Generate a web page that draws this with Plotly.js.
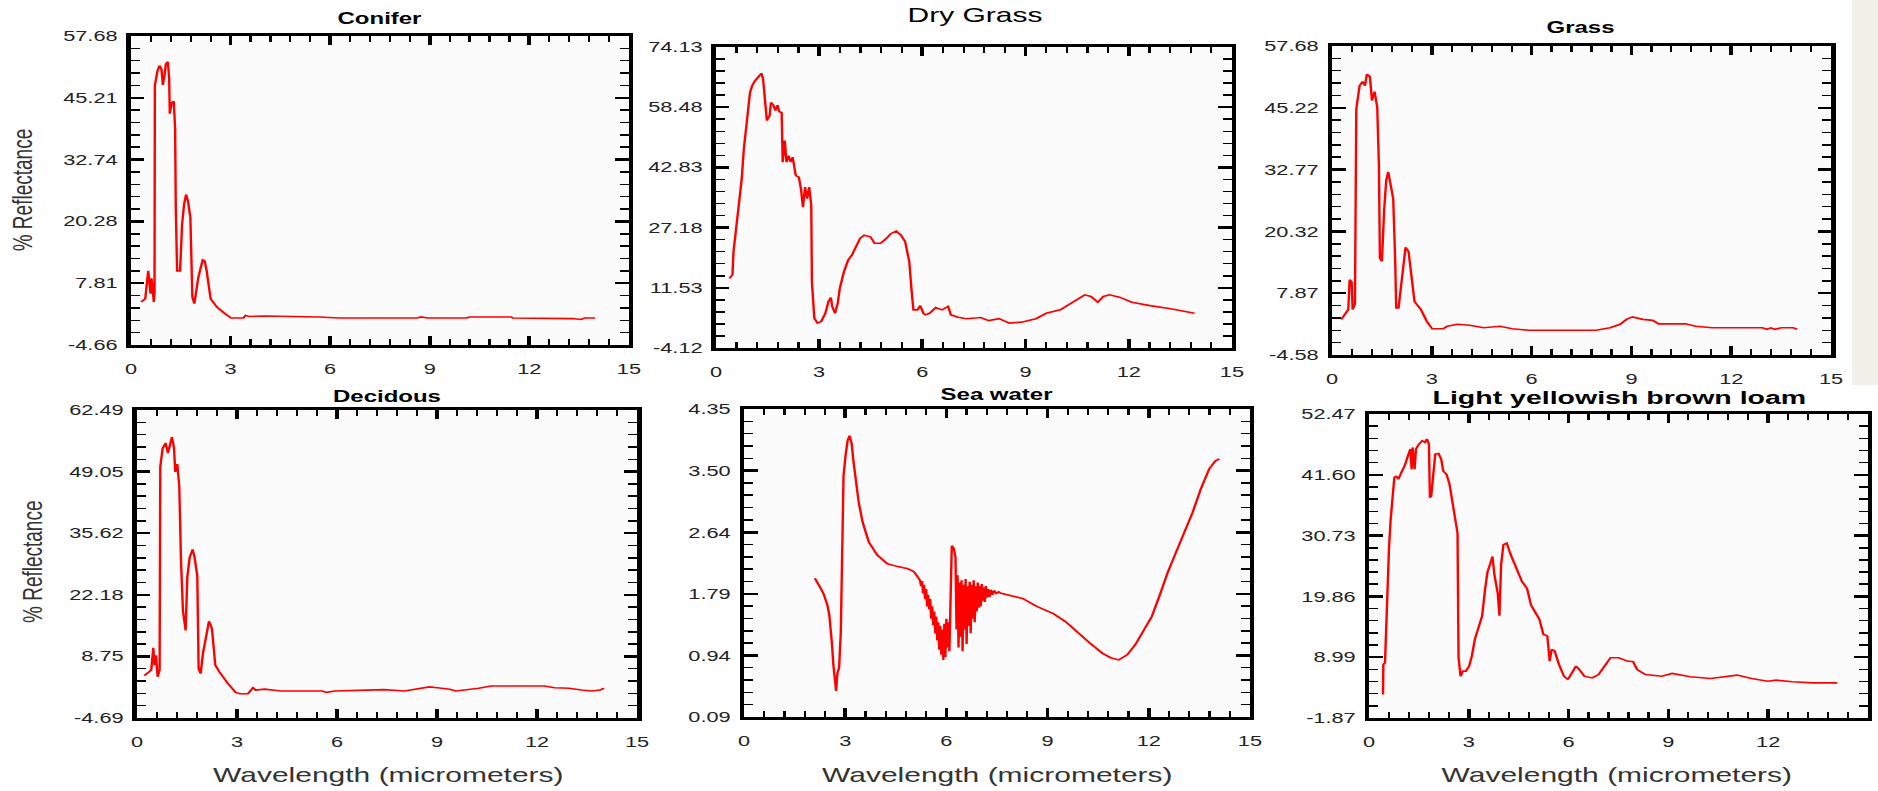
<!DOCTYPE html>
<html><head><meta charset="utf-8">
<script src="https://cdn.plot.ly/plotly-3.0.1.min.js"></script>
<style>
html,body{margin:0;padding:0;background:#ffffff;overflow:hidden;width:1878px;height:791px}
#wrap{width:1252px;height:791px;transform:scaleX(1.5);transform-origin:0 0}
</style></head><body><div id="wrap"></div>
<script>
// ---- data ----
const coniferX=[0.31,0.43,0.52,0.59,0.62,0.69,0.71,0.72,0.80,0.86,0.92,0.96,1.01,1.05,1.11,1.15,1.17,1.23,1.29,1.33,1.35,1.39,1.48,1.54,1.60,1.66,1.72,1.79,1.85,1.91,2.03,2.16,2.22,2.28,2.40,2.59,2.83,3.02,3.39,3.45,3.57,4.06,5.67,6.28,8.62,8.74,8.93,10.1,10.2,11.45,11.5,13.3,13.55,13.67,13.98];
const coniferY=[4.0,4.67,10.3,5.67,8.8,4.0,5.8,47.7,50.7,51.7,51.0,47.8,49.7,52.0,52.5,49.3,42.0,44.3,44.5,39.0,23.3,10.3,10.3,19.7,23.7,25.7,24.3,21.0,5.0,3.7,9.0,12.5,12.3,10.3,4.67,3.0,1.67,0.8,0.8,1.3,1.1,1.2,1.0,0.8,0.8,1.0,0.8,0.8,1.0,1.0,0.8,0.67,0.5,0.8,0.8];

const dryGrassX=[0.39,0.48,0.51,0.59,0.69,0.75,0.81,0.87,0.93,0.99,1.05,1.13,1.22,1.32,1.37,1.44,1.48,1.56,1.60,1.67,1.73,1.79,1.84,1.91,1.94,2.00,2.05,2.11,2.17,2.23,2.32,2.41,2.47,2.53,2.59,2.65,2.71,2.77,2.79,2.86,2.95,3.06,3.18,3.27,3.34,3.38,3.46,3.54,3.60,3.72,3.84,3.95,4.07,4.19,4.31,4.49,4.61,4.79,4.96,5.08,5.24,5.38,5.50,5.62,5.69,5.74,5.86,5.94,6.03,6.09,6.21,6.39,6.57,6.75,6.83,7.04,7.28,7.70,7.93,8.23,8.53,8.88,9.30,9.60,10.01,10.37,10.72,10.90,11.10,11.26,11.44,11.73,12.09,12.62,13.22,13.91];
const dryGrassY=[14.0,14.9,20.9,27.0,33.8,39.9,47.6,52.8,58.9,62.3,64.0,65.3,66.2,67.3,65.8,58.4,55.0,56.3,59.7,59.0,57.6,59.0,57.3,57.1,44.2,49.8,44.2,45.9,44.2,45.5,40.7,40.3,37.3,32.5,37.7,34.7,37.7,33.0,13.1,3.6,2.35,2.8,4.9,8.0,9.0,6.7,4.9,7.5,11.4,15.7,18.7,20.0,22.2,24.4,25.2,24.8,23.1,23.1,24.4,25.6,26.3,25.2,23.5,18.3,10.5,5.8,5.8,6.9,4.9,4.5,4.9,6.4,5.8,6.7,4.5,3.9,3.5,3.8,3.0,3.5,2.35,2.6,3.5,4.9,5.8,7.8,9.7,9.3,7.8,9.3,9.7,9.1,7.8,6.9,6.1,4.9];

const grassX=[0.28,0.49,0.53,0.59,0.62,0.69,0.73,0.83,0.92,0.99,1.05,1.14,1.20,1.28,1.36,1.41,1.44,1.50,1.57,1.63,1.69,1.77,1.84,1.90,1.93,2.00,2.08,2.15,2.21,2.30,2.40,2.48,2.67,2.85,3.01,3.34,3.46,3.77,4.14,4.56,5.05,5.42,5.91,6.34,7.07,7.93,8.36,8.66,8.85,9.03,9.34,9.64,9.82,10.62,10.93,11.42,12.58,12.94,13.07,13.19,13.31,13.50,13.86,13.98];
const grassY=[2.57,4.6,10.6,10.2,4.6,5.7,45.0,49.7,50.5,49.7,52.0,51.5,46.7,48.5,45.3,33.6,14.9,14.3,24.9,30.6,32.3,28.9,26.9,14.3,4.9,4.9,9.6,14.9,17.1,16.3,10.3,6.2,4.6,2.2,0.7,0.7,1.2,1.6,1.4,0.9,1.2,0.7,0.4,0.4,0.4,0.4,0.9,1.6,2.6,3.1,2.6,2.4,1.7,1.7,1.2,0.9,0.9,0.9,0.6,0.9,0.6,0.9,0.9,0.6];

const decidousX=[0.22,0.43,0.49,0.53,0.57,0.62,0.68,0.70,0.77,0.86,0.93,0.99,1.05,1.11,1.15,1.21,1.27,1.32,1.38,1.46,1.51,1.58,1.67,1.73,1.81,1.85,1.91,1.98,2.07,2.16,2.25,2.35,2.47,2.72,2.96,3.09,3.33,3.40,3.48,3.56,3.83,4.32,5.56,5.68,5.93,6.91,7.41,8.02,8.52,8.77,9.01,9.38,9.57,9.88,10.25,10.62,11.23,12.22,12.53,12.96,13.33,13.64,13.89,14.01];
const decidousY=[4.54,5.8,10.6,6.85,9.0,4.3,5.8,50.1,54.1,55.3,53.1,54.8,56.6,54.3,49.0,50.7,45.8,29.9,18.7,14.4,26.0,30.3,32.1,30.3,26.3,6.1,5.0,9.4,13.7,16.4,14.8,6.85,5.4,2.9,0.9,0.6,0.6,1.4,1.9,1.4,1.6,1.2,1.2,0.9,1.2,1.4,1.5,1.2,1.8,2.1,1.9,1.6,1.2,1.4,1.8,2.3,2.3,2.3,1.9,1.8,1.4,1.2,1.4,1.8];

const seaX=[2.10,2.15,2.25,2.37,2.47,2.53,2.57,2.61,2.65,2.70,2.73,2.77,2.82,2.87,2.90,2.95,3.01,3.07,3.13,3.19,3.24,3.32,3.40,3.52,3.70,3.95,4.25,4.56,4.86,5.04,5.16,5.22,5.25,5.28,5.31,5.34,5.37,5.40,5.43,5.46,5.49,5.52,5.55,5.58,5.61,5.64,5.67,5.70,5.73,5.76,5.79,5.82,5.85,5.88,5.91,5.94,5.97,6.00,6.03,6.06,6.09,6.12,6.16,6.22,6.27,6.30,6.33,6.36,6.39,6.42,6.45,6.48,6.51,6.54,6.57,6.60,6.63,6.66,6.69,6.72,6.75,6.78,6.81,6.84,6.87,6.90,6.93,6.96,6.99,7.02,7.05,7.08,7.11,7.14,7.17,7.20,7.24,7.28,7.32,7.36,7.42,7.48,7.55,7.62,7.83,8.26,8.68,9.17,9.53,9.90,10.26,10.63,10.87,11.11,11.36,11.60,11.84,12.09,12.33,12.57,12.81,13.06,13.30,13.54,13.79,13.97,14.09];
const seaY=[2.01,1.96,1.89,1.78,1.64,1.50,1.18,1.09,0.81,0.58,0.45,0.70,0.77,1.27,2.37,3.42,3.70,3.91,3.98,3.88,3.65,3.33,3.06,2.78,2.51,2.33,2.21,2.17,2.14,2.10,2.03,1.98,1.90,1.97,1.80,1.92,1.72,1.86,1.62,1.78,1.58,1.72,1.45,1.62,1.36,1.55,1.25,1.48,1.15,1.40,1.02,1.35,0.95,1.30,0.88,1.38,0.92,1.45,1.05,1.40,1.00,2.10,2.46,2.42,2.30,1.30,2.05,1.05,1.95,1.20,1.98,1.00,1.92,1.30,2.00,1.10,1.90,1.35,1.96,1.25,1.92,1.45,1.98,1.40,1.90,1.55,1.95,1.60,1.90,1.62,1.93,1.70,1.88,1.68,1.90,1.74,1.86,1.75,1.85,1.78,1.84,1.80,1.82,1.80,1.78,1.73,1.62,1.52,1.41,1.25,1.11,0.97,0.91,0.88,0.95,1.09,1.27,1.48,1.78,2.10,2.37,2.65,2.92,3.24,3.52,3.63,3.66];

const loamX=[0.42,0.43,0.48,0.52,0.55,0.60,0.65,0.70,0.76,0.82,0.88,0.97,1.07,1.17,1.24,1.28,1.31,1.37,1.41,1.50,1.60,1.68,1.74,1.80,1.83,1.87,1.93,1.99,2.09,2.17,2.23,2.33,2.42,2.52,2.60,2.66,2.69,2.75,2.82,2.91,3.01,3.09,3.18,3.28,3.40,3.49,3.56,3.65,3.71,3.77,3.87,3.92,3.97,4.04,4.14,4.26,4.38,4.50,4.60,4.75,4.87,4.99,5.12,5.24,5.36,5.43,5.49,5.58,5.71,5.86,5.98,6.10,6.22,6.32,6.47,6.71,6.90,7.08,7.26,7.51,7.76,7.94,8.06,8.31,8.80,9.11,9.66,10.27,10.70,11.07,11.50,11.99,12.24,12.73,13.34,13.96,14.08];
const loamY=[2.33,7.7,8.0,15.5,22.5,28.5,33.6,38.1,41.1,41.4,40.8,42.0,43.2,45.0,46.2,42.6,46.5,42.6,46.2,47.1,47.7,47.4,48.0,47.1,37.5,37.8,41.7,45.3,45.4,44.4,42.3,41.7,39.9,35.7,33.3,31.2,9.0,5.6,6.5,6.5,7.4,9.2,12.2,14.0,16.4,21.2,24.2,25.8,27.0,23.7,20.4,16.4,25.5,29.1,29.4,27.3,25.5,24.2,22.5,21.3,18.3,17.1,15.8,13.1,12.8,8.3,10.4,10.1,7.7,5.6,5.0,6.2,7.4,6.8,5.6,5.3,5.9,7.4,8.9,8.9,8.3,8.2,6.8,5.9,5.6,6.1,5.5,5.2,5.5,5.8,5.2,4.7,4.9,4.6,4.4,4.3,4.4];

// ---- tick labels ----
const xTicks=[0,3,6,9,12,15];
const coniferTicks=['-4.66','7.81','20.28','32.74','45.21','57.68'];
const dryGrassTicks=['-4.12','11.53','27.18','42.83','58.48','74.13'];
const grassTicks=['-4.58','7.87','20.32','32.77','45.22','57.68'];
const decidousTicks=['-4.69','8.75','22.18','35.62','49.05','62.49'];
const seaTicks=['0.09','0.94','1.79','2.64','3.50','4.35'];
const loamTicks=['-1.87','8.99','19.86','30.73','41.60','52.47'];
const panelTitles=['Conifer','Dry Grass','Grass','Decidous','Sea water','Light yellowish brown loam'];
const yTitle='% Reflectance';
const xTitle='Wavelength (micrometers)';

// ---- layout ----
const W=1252,H=791;
const FONT='Liberation Sans, Arial, sans-serif';
const frames=[ // [left,right,top,bottom] in unscaled px
  [87.3,419.3,36,345],[477.3,821.3,47,348],[888,1220.7,46,355],
  [91.3,424.7,410,718],[496,833.3,409,717],[912.7,1245.3,414,718]];
const series=[[coniferX,coniferY,coniferTicks],[dryGrassX,dryGrassY,dryGrassTicks],[grassX,grassY,grassTicks],
  [decidousX,decidousY,decidousTicks],[seaX,seaY,seaTicks],[loamX,loamY,loamTicks]];

const data=[];const layout={width:W,height:H,margin:{l:0,r:0,t:0,b:0},
  paper_bgcolor:'#ffffff',plot_bgcolor:'#fbfbfb',showlegend:false,annotations:[],
  shapes:[{type:'rect',xref:'paper',yref:'paper',x0:1234.7/W,x1:1,y0:1-385/H,y1:1,
    fillcolor:'#f3f0ea',line:{width:0},layer:'below'}]};
series.forEach((s,i)=>{
  const n=i===0?'':String(i+1);
  data.push({x:s[0],y:s[1],xaxis:'x'+n,yaxis:'y'+n,type:'scatter',mode:'lines',
    line:{color:'#ff0000',width:1.6},hoverinfo:'skip'});
  const f=frames[i];
  const tv=s[2].map(Number);
  const lo=tv[0],hi=tv[tv.length-1];
  const common={showline:true,linecolor:'#000',linewidth:3,mirror:'allticks',ticks:'inside',
    ticklen:9,tickwidth:2.5,tickcolor:'#000',showgrid:false,zeroline:false,
    tickfont:{family:FONT,size:14.5,color:'#222'}};
  layout['xaxis'+n]=Object.assign({},common,{anchor:'y'+n,domain:[f[0]/W,f[1]/W],range:[0,15],
    tickmode:'array',tickvals:xTicks,ticktext:xTicks.map(String),ticklabelstandoff:9,
    minor:{tickmode:'linear',tick0:0,dtick:0.6,ticklen:6,tickwidth:1.5,tickcolor:'#000',ticks:'inside'}});
  layout['yaxis'+n]=Object.assign({},common,{anchor:'x'+n,domain:[1-f[3]/H,1-f[2]/H],range:[lo,hi],
    tickmode:'array',tickvals:tv,ticktext:s[2],ticklabelstandoff:3,
    minor:{tickmode:'linear',tick0:lo,dtick:(hi-lo)/25,ticklen:6,tickwidth:1.5,tickcolor:'#000',ticks:'inside'}});
});
const tpos=[[253.3,18,16,true],[650,15,20,false],[1053.3,27,16,true],[258,396,16,true],[664.7,395,16,true],[1079.3,397,19,true]];
tpos.forEach((t,i)=>{
  layout.annotations.push({xref:'paper',yref:'paper',x:t[0]/W,y:1-t[1]/H,xanchor:'center',yanchor:'middle',
    showarrow:false,text:t[3]?'<b>'+panelTitles[i]+'</b>':panelTitles[i],font:{family:FONT,size:t[2],color:'#000'}});
});
[[15.3,190],[21,562]].forEach(p=>layout.annotations.push({xref:'paper',yref:'paper',x:p[0]/W,y:1-p[1]/H,
  xanchor:'center',yanchor:'middle',textangle:-90,showarrow:false,text:yTitle,font:{family:FONT,size:19,color:'#333'}}));
[259.3,665.3,1078].forEach(px=>layout.annotations.push({xref:'paper',yref:'paper',x:px/W,y:1-775/H,
  xanchor:'center',yanchor:'middle',showarrow:false,text:xTitle,font:{family:FONT,size:20,color:'#333'}}));
Plotly.newPlot('wrap',data,layout,{staticPlot:true,displayModeBar:false});
</script></body></html>
